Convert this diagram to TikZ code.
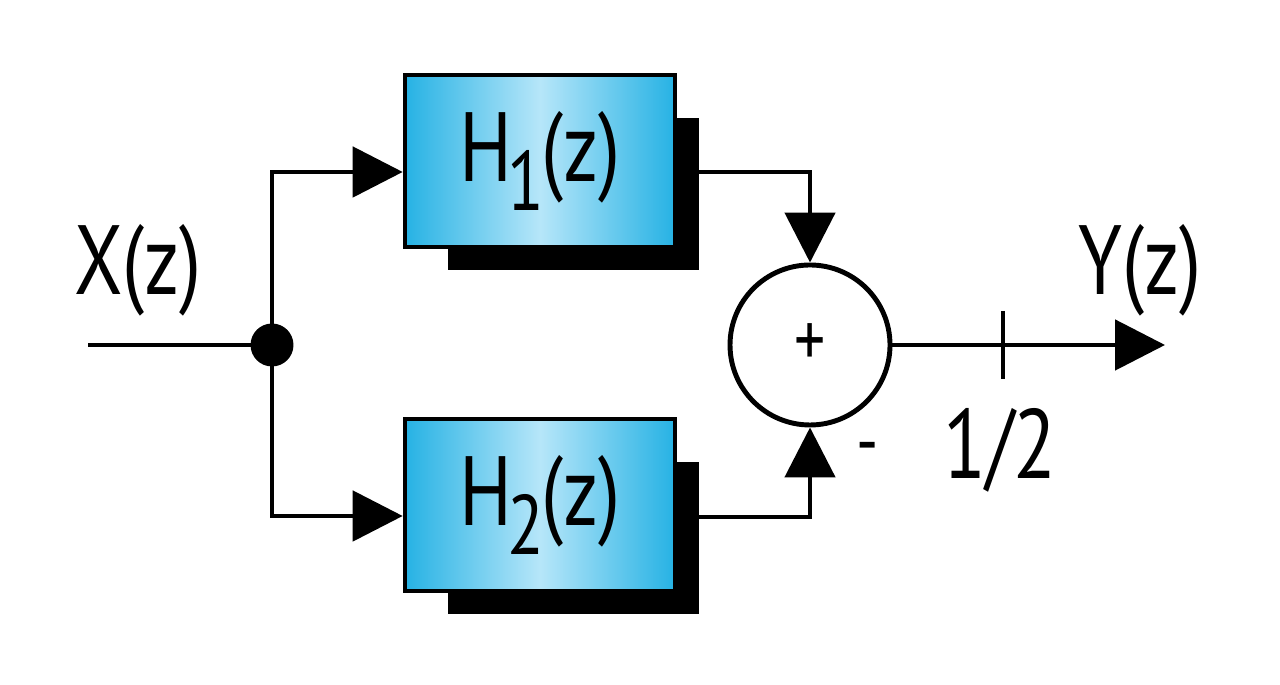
\documentclass[tikz,border=0pt]{standalone}
\usepackage{fontspec}
\setmainfont{PT Sans}[FakeStretch=0.8]
\usetikzlibrary{positioning, arrows.meta, backgrounds}

\definecolor{boxedge}{RGB}{38,178,228}
\definecolor{boxmid}{RGB}{182,230,249}

\newcommand{\lowidx}[1]{\kern-0.05em\raisebox{-0.3em}{\fontsize{24}{26}\selectfont #1}\kern-0.03em}

\tikzset{
    filt/.style={draw, line width=1.3pt, minimum width=2.70cm, minimum height=1.72cm,
        left color=boxedge, right color=boxedge, middle color=boxmid, inner sep=0pt},
    summ/.style={draw, circle, line width=1.4pt, minimum size=1.60cm, inner sep=0pt},
    lbl/.style={font=\fontsize{28}{30}\selectfont, inner sep=0pt}
}

\begin{document}
\begin{tikzpicture}[>={Triangle[length=0.5cm, width=0.5cm]}, line width=1.4pt]
                \useasboundingbox (0,0) rectangle (12.8,6.85);

                \node[filt, lbl] (h1) at (5.40, 5.24) {H\lowidx{1}(z)};
                \node[filt, lbl] (h2) at (5.40, 1.80) {H\lowidx{2}(z)};
                \node[summ] (sum) at (8.10, 3.40) {\fontsize{22}{24}\selectfont +};

                % drop shadows behind the filters
                \begin{scope}[on background layer]
                    \fill ([shift={(0.45,-0.21)}]h1.south west) rectangle ([shift={(0.22,-0.45)}]h1.north east);
                    \fill ([shift={(0.45,-0.21)}]h2.south west) rectangle ([shift={(0.22,-0.45)}]h2.north east);
                \end{scope}

                \coordinate (in) at (0.88, 3.40);
                \coordinate (jn) at (2.72, 3.40);
                \coordinate (out) at (11.65, 3.40);
                \coordinate (tick) at (10.03, 3.40);

                \node[lbl] (xz) at (1.38, 4.15) {X(z)};
                \node[lbl] (yz) at (11.40, 4.15) {Y(z)};
                \node[lbl] (half) at (10.00, 2.35) {1/2};
                \node[lbl, font=\fontsize{22}{24}\selectfont] (minus) at (8.68, 2.30) {-};

                \draw (in) -- (jn);
                \draw[->] (jn) |- ([yshift=-0.11cm]h1.west);
                \draw[->] (jn) |- ([yshift=-0.11cm]h2.west);
                \draw[->] ([yshift=-0.11cm]h1.east) -| (sum.north);
                \draw[->] ([yshift=-0.12cm]h2.east) -| (sum.south);
                \draw[->] (sum.east) -- (out);
                \draw ([yshift=0.34cm]tick) -- ([yshift=-0.34cm]tick);

                \filldraw (jn) circle (0.19);
            \end{tikzpicture}
\end{document}
